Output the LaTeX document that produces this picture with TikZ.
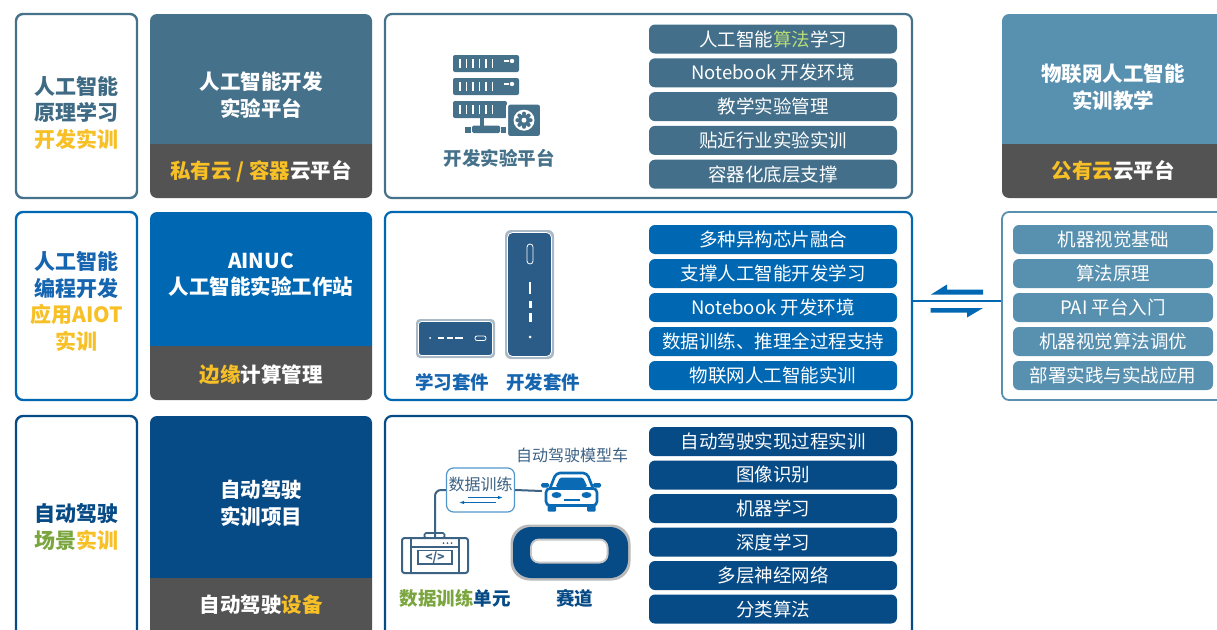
\documentclass[tikz,border=0pt]{standalone}
\usepackage{fontspec}
\setmainfont{Noto Sans CJK SC}
\usepackage{xcolor}
\usepackage{tikz}
\usetikzlibrary{arrows.meta}
\definecolor{steel}{HTML}{45718B}
\definecolor{steeltxt}{HTML}{3F6A84}
\definecolor{pillA}{HTML}{436F8A}
\definecolor{dgray}{HTML}{535353}
\definecolor{gold}{HTML}{F7C026}
\definecolor{algo}{HTML}{B9DC73}
\definecolor{blue}{HTML}{0068B3}
\definecolor{bluetxt}{HTML}{1565B0}
\definecolor{navy}{HTML}{064A86}
\definecolor{grass}{HTML}{7BA63F}
\definecolor{sky}{HTML}{5890B0}
\definecolor{kit}{HTML}{2B5B87}
\definecolor{kitrim}{HTML}{A9B9C6}
\definecolor{wire}{HTML}{3C6284}
\definecolor{carblue}{HTML}{0A6AB3}
\tikzset{
  side/.style={draw, fill=white, line width=2.4pt, rounded corners=7pt, minimum width=121pt, inner sep=0pt},
  sidetxt/.style={align=center, inner sep=0pt, font=\bfseries\fontsize{21}{26.5}\selectfont},
  panel/.style={draw, fill=white, line width=2.2pt, rounded corners=7pt, inner sep=0pt},
  ttl/.style={text=white, align=center, inner sep=0pt, font=\bfseries\fontsize{20.5}{26.5}\selectfont},
  pill/.style={rounded corners=6pt, minimum width=248pt, minimum height=29pt, inner sep=0pt, text=white, font=\fontsize{18.5}{18.5}\selectfont},
  lab/.style={inner sep=0pt, font=\bfseries\fontsize{18.5}{18.5}\selectfont},
  wirel/.style={draw=wire, line width=2pt},
}

\begin{document}
\begin{tikzpicture}[x=1pt,y=-1pt]
  \useasboundingbox (0,0) rectangle (1217,629);
  \clip (0,0) rectangle (1217,629);

  % left column
  \node[side, draw=steel, minimum height=184pt] (l1) at (76.5,106) {};
  \node[sidetxt] (l1t) at (76.5,112.5) {\textcolor{steeltxt}{人工智能}\\\textcolor{steeltxt}{原理学习}\\\textcolor{gold}{开发实训}};
  \node[side, draw=blue, minimum height=188pt] (l2) at (76.5,306) {};
  \node[sidetxt] (l2t) at (76.5,301.5) {\textcolor{bluetxt}{人工智能}\\\textcolor{bluetxt}{编程开发}\\\textcolor{gold}{应用AIOT}\\\textcolor{gold}{实训}};
  \node[side, draw=navy, minimum height=224pt] (l3) at (76.5,528) {};
  \node[sidetxt] (l3t) at (76.5,527) {\textcolor{navy}{自动驾驶}\\\textcolor{grass}{场景}\textcolor{gold}{实训}};

  % platform blocks
  \fill[steel, rounded corners=7pt] (150,144) -- (150,14) -- (372,14) -- (372,144);
  \fill[dgray, rounded corners=7pt] (150,144) -- (150,198) -- (372,198) -- (372,144);
  \node[ttl] (m1) at (261,95) {人工智能开发\\实验平台};
  \node[ttl] (m1b) at (261,171) {\textcolor{gold}{私有云 / 容器}云平台};

  \fill[blue, rounded corners=7pt] (150,346) -- (150,212) -- (372,212) -- (372,346);
  \fill[dgray, rounded corners=7pt] (150,346) -- (150,400) -- (372,400) -- (372,346);
  \node[ttl] (m2) at (261,274.5) {AINUC\\人工智能实验工作站};
  \node[ttl] (m2b) at (261,375) {\textcolor{gold}{边缘}计算管理};

  \fill[navy, rounded corners=7pt] (150,578) -- (150,416) -- (372,416) -- (372,578);
  \fill[dgray, rounded corners=7pt] (150,578) -- (150,640) -- (372,640) -- (372,578);
  \node[ttl] (m3) at (261,503) {自动驾驶\\实训项目};
  \node[ttl] (m3b) at (261,605) {自动驾驶\textcolor{gold}{设备}};

  \fill[sky, rounded corners=7pt] (1002,144) -- (1002,14) -- (1240,14) -- (1240,144);
  \fill[dgray, rounded corners=7pt] (1002,144) -- (1002,198) -- (1240,198) -- (1240,144);
  \node[ttl] (r1) at (1113,87) {物联网人工智能\\实训教学};
  \node[ttl] (r1b) at (1113,171) {\textcolor{gold}{公有云}云平台};

  % content panels
  \node[panel, draw=steel, minimum width=527pt, minimum height=184pt] (pan1) at (648.5,106) {};
  \node[panel, draw=blue, minimum width=527pt, minimum height=188pt] (pan2) at (648.5,306) {};
  \node[panel, draw=navy, minimum width=527pt, minimum height=224pt] (pan3) at (648.5,528) {};
  \node[panel, draw=sky, line width=1.8pt, minimum width=240pt, minimum height=188pt] (rp2) at (1122,306) {};

  \foreach \t [count=\i] in {人工智能\textcolor{algo}{算法}学习, Notebook 开发环境, 教学实验管理, 贴近行业实验实训, 容器化底层支撑}
    \node[pill, fill=pillA] (a\i) at (773,{39+33.8*(\i-1)}) {\t};
  \foreach \t [count=\i] in {多种异构芯片融合, 支撑人工智能开发学习, Notebook 开发环境, 数据训练、推理全过程支持, 物联网人工智能实训}
    \node[pill, fill=blue] (b\i) at (773,{239.5+34*(\i-1)}) {\t};
  \foreach \t [count=\i] in {自动驾驶实现过程实训, 图像识别, 机器学习, 深度学习, 多层神经网络, 分类算法}
    \node[pill, fill=navy] (c\i) at (773,{441.5+33.5*(\i-1)}) {\t};
  \foreach \t [count=\i] in {机器视觉基础, 算法原理, PAI 平台入门, 机器视觉算法调优, 部署实践与实战应用}
    \node[pill, fill=sky, minimum width=200pt] (d\i) at (1113,{239.5+34*(\i-1)}) {\t};

  % link to the public cloud side
  \draw[blue, line width=1.6pt] ([yshift=5pt]pan2.east) -- ([yshift=5pt]rp2.west);
  \fill[blue] (931,294.5) -- (947,284.5) -- (947,289.5) -- (983,289.5) -- (983,294.5) -- cycle;
  \fill[blue] (930.5,308) -- (983,308) -- (967,317.5) -- (967,312.5) -- (930.5,312.5) -- cycle;

  % server icon
  \foreach \y/\w in {55/519,78/519,101/507} {
    \fill[steel, rounded corners=2pt] (453,\y) rectangle (\w,\y+17);
    \foreach \x in {460,466.5,...,494}
      \draw[white, line width=1.6pt] (\x,\y+4) -- (\x,\y+13);
  }
  \foreach \y in {55,78} {
    \fill[white] (512,\y+6) circle (2.2);
    \draw[white, line width=1.4pt] (504,\y+6) -- (509,\y+6);
  }
  \fill[steel] (480,117) rectangle (484,127);
  \fill[steel, rounded corners=1.5pt] (472,125.5) rectangle (500,133);
  \fill[steel] (465,127) rectangle (471,133);
  \fill[steel] (501,127) rectangle (507,133);
  \filldraw[draw=white, line width=2pt, fill=steel, rounded corners=3pt] (507,103.5) rectangle (541,137);
  \fill[white] (524,120.2) circle (10.5);
  \fill[steel] (524,120.2) circle (6);
  \foreach \a in {0,45,...,315}
    \fill[steel] (524,120.2) ++(\a:6.6) circle (2);
  \fill[white] (524,120.2) circle (2.5);
  \node[lab, text=steel] (srv) at (499,158) {开发实验平台};

  % kits
  \fill[kitrim, rounded corners=4pt] (416,319) rectangle (495,358);
  \filldraw[draw=white, fill=kit, line width=0.8pt, rounded corners=3pt] (418.5,321.5) rectangle (492.5,355.5);
  \fill[white] (430,338) circle (1);
  \draw[white, line width=2.4pt] (438,338) -- (444,338) (446.5,338) -- (452.5,338);
  \draw[white, line width=1.5pt] (455,338) -- (463,338);
  \draw[white, line width=0.8pt, rounded corners=2pt] (475,336) rectangle (486,340.5);
  \fill[kitrim, rounded corners=6pt] (505,230) rectangle (554,359);
  \filldraw[draw=white, fill=kit, line width=0.8pt, rounded corners=5pt] (507.5,232.5) rectangle (551.5,356.5);
  \draw[white, line width=0.8pt, rounded corners=3pt] (527,244) rectangle (533,264);
  \draw[white, line width=1.4pt] (530,282) -- (530,294);
  \draw[white, line width=3pt] (530,301) -- (530,308) (530,313) -- (530,322);
  \fill[white] (530,337) circle (1.5);
  \node[lab, text=bluetxt] (kit1) at (452,382) {学习套件};
  \node[lab, text=bluetxt] (kit2) at (543,382) {开发套件};

  % model car
  \node[inner sep=0pt, font=\fontsize{16}{16}\selectfont, text=wire] (carlab) at (572,455) {自动驾驶模型车};
  \node[inner sep=0pt, minimum width=56pt, minimum height=42pt] (car) at (570,491) {};
  \fill[carblue, rounded corners=1.5pt] (541,483) rectangle (549,487.5) (593,483) rectangle (601,487.5);
  \draw[carblue, line width=2.6pt, rounded corners=4pt] (549,491) -- (556,473) -- (587,473) -- (594,491);
  \fill[carblue, rounded corners=1.5pt] (555.5,487) -- (560,477.5) -- (583,477.5) -- (587.5,487) -- cycle;
  \filldraw[draw=carblue, fill=white, line width=2.6pt, rounded corners=4pt] (546,488.5) rectangle (597,505.5);
  \fill[carblue] (556.5,495) ellipse (5 and 3) (586.5,495) ellipse (5 and 3);
  \draw[carblue, line width=2pt] (563.5,499.5) -- (579.5,499.5);
  \fill[carblue, rounded corners=1pt] (547.5,505) rectangle (556,511.5) (587,505) rectangle (595.5,511.5);

  % data training box
  \node[draw=carblue!70, fill=white, line width=1.2pt, rounded corners=7pt, minimum width=68pt, minimum height=44pt, inner sep=0pt] (dt) at (480.5,490) {};
  \node[inner sep=0pt, font=\fontsize{16}{16}\selectfont, text=wire] (dtt) at (480.5,484) {数据训练};
  \draw[carblue, line width=0.9pt, -{Latex[length=5pt,width=3.5pt]}] (468,497.5) -- (503,497.5);
  \draw[carblue, line width=0.9pt, -{Latex[length=5pt,width=3.5pt]}] (496,502.5) -- (459,502.5);

  % training unit
  \node[inner sep=0pt, minimum width=66pt, minimum height=35pt] (mon) at (435,555.5) {};
  \draw[wire, line width=1.6pt, rounded corners=1.5pt] (424.5,533) rectangle (444.5,538);
  \draw[wire, line width=2pt, rounded corners=2.5pt] (402,538) rectangle (468,573);
  \draw[wire, line width=2pt] (411,538) -- (411,573) (459,538) -- (459,573);
  \draw[wire, line width=1.6pt] (411,547) -- (459,547);
  \foreach \x in {443.5,447.5,451.5}
    \fill[wire] (\x,543) circle (1);
  \draw[wire, line width=1.6pt] (418,550.5) rectangle (452,564);
  \node[inner sep=0pt, text=wire, font=\bfseries\fontsize{12}{12}\selectfont] (code) at (435,557.5) {</>};
  \draw[wirel, rounded corners=6pt] (dt.west) -| (mon.north);
  \draw[wirel] (dt.east) -- (car.west);
  \node[lab] (monlab) at (455,598) {\textcolor{grass}{数据训练}\textcolor{navy}{单元}};

  % track
  \fill[gray!55, rounded corners=19pt] (510.5,524.5) rectangle (630.5,580.5);
  \fill[navy, rounded corners=18pt] (513,527) rectangle (628,578);
  \fill[gray!45, rounded corners=9pt] (530,538.5) rectangle (608.5,563.5);
  \fill[white, rounded corners=7pt] (532,540.5) rectangle (606.5,561.5);
  \node[lab, text=navy] (trklab) at (574.5,598) {赛道};
\end{tikzpicture}
\end{document}
